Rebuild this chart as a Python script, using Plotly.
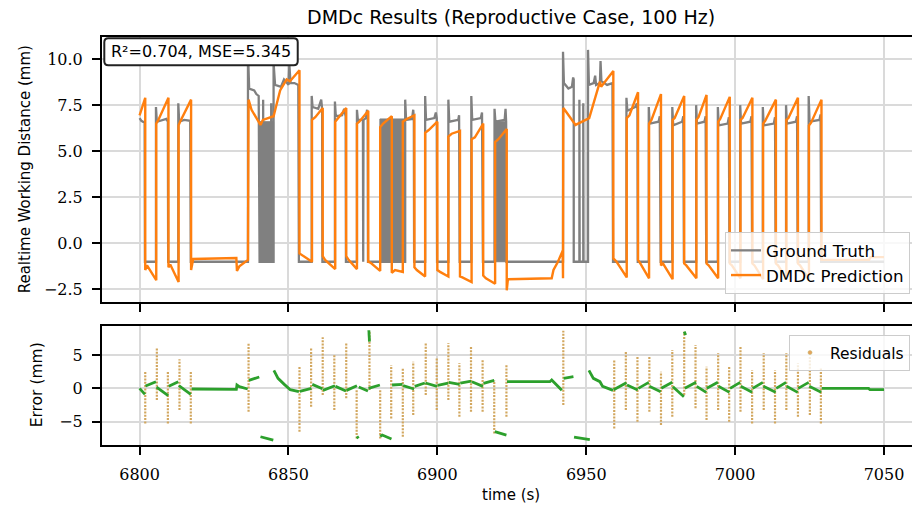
import plotly.graph_objects as go

# ---------------- data ----------------
gt_pts = [
    (6800.0, 6.8), (6800.6, 6.65), (6801.7, 6.55), (6801.8, -1.0),
    (6805.5, -1.0), (6805.5, 7.4), (6805.8, 6.6), (6807.5, 6.7), (6809.0, 6.75), (6809.5, 6.6), (6809.6, -1.0),
    (6813.0, -1.0), (6813.0, 7.6), (6813.3, 6.6), (6815.0, 6.7), (6817.0, 6.65), (6817.2, -1.0),
    (6836.4, -1.0), (6836.4, 10.4), (6836.8, 8.4), (6838.5, 8.3), (6839.2, 8.1), (6840.0, 8.0), (6840.3, -1.0),
    (6841.5, -1.0), (6841.5, 7.8), (6841.6, -1.0), (6844.2, -1.0), (6844.2, 7.6), (6844.3, -1.0),
    (6845.0, -1.0), (6845.0, 9.8), (6845.5, 8.6), (6847.5, 8.5), (6848.5, 8.9), (6850.0, 8.6), (6850.3, 9.7),
    (6850.7, 8.7), (6852.0, 8.7), (6853.3, 8.6), (6853.5, -1.0),
    (6857.8, -1.0), (6857.8, 8.0), (6858.1, 7.4), (6860.0, 7.3), (6861.0, 7.8), (6861.3, 7.3), (6861.4, -1.0),
    (6865.6, -1.0), (6865.6, 7.7), (6865.9, 6.9), (6868.0, 6.95), (6868.7, 7.3), (6869.2, 6.9), (6869.3, -1.0),
    (6873.0, -1.0), (6873.0, 7.25), (6873.3, 6.7), (6875.0, 6.7), (6875.1, -1.0), (6875.2, 6.7), (6876.0, 6.8),
    (6876.4, 7.25), (6876.6, 6.8), (6876.7, -1.0),
    (6889.2, -1.0), (6889.2, 7.8), (6889.5, 6.7), (6891.5, 6.75), (6891.9, 7.25), (6892.1, 6.8), (6892.2, -1.0),
    (6895.9, -1.0), (6895.9, 8.0), (6896.2, 6.7), (6899.0, 6.8), (6899.5, 7.1), (6899.8, 6.8), (6899.9, -1.0),
    (6903.7, -1.0), (6903.7, 7.8), (6904.0, 6.6), (6907.0, 6.7), (6907.3, 6.95), (6907.5, -1.0),
    (6911.4, -1.0), (6911.4, 8.0), (6911.7, 6.7), (6914.6, 6.8), (6915.0, 7.1), (6915.3, -1.0),
    (6919.2, -1.0), (6919.2, 7.3), (6919.5, 6.6), (6922.6, 6.7), (6922.9, 7.3), (6923.1, 6.6), (6923.2, -1.0),
    (6942.2, -1.0), (6942.2, 10.4), (6942.5, 8.7), (6944.0, 8.4), (6945.2, 8.5), (6945.6, 9.0), (6945.8, 8.9), (6945.8, -1.0),
    (6947.7, -1.0), (6947.7, 7.8), (6947.8, -1.0), (6949.0, -1.0), (6949.0, 7.6), (6949.1, -1.0),
    (6950.6, -1.0), (6950.6, 10.5), (6950.9, 8.6), (6952.5, 8.7), (6953.0, 9.1), (6953.3, 8.6), (6954.6, 8.7),
    (6954.8, 9.9), (6955.1, 8.8), (6957.0, 8.6), (6958.8, 8.7), (6959.0, -1.0),
    (6963.5, -1.0), (6963.5, 7.9), (6963.8, 7.2), (6966.5, 7.4), (6967.0, 7.6), (6967.2, 7.3), (6967.3, -1.0),
    (6971.0, -1.0), (6971.0, 7.4), (6971.3, 6.5), (6974.3, 6.6), (6974.7, 6.9), (6975.0, -1.0),
    (6978.9, -1.0), (6978.9, 7.4), (6979.2, 6.4), (6982.2, 6.6), (6982.6, 6.9), (6982.8, -1.0),
    (6986.9, -1.0), (6986.9, 7.5), (6987.2, 6.5), (6989.7, 6.6), (6990.1, 6.9), (6990.3, -1.0),
    (6994.2, -1.0), (6994.2, 7.4), (6994.5, 6.4), (6997.5, 6.5), (6997.9, 6.85), (6998.1, -1.0),
    (7001.7, -1.0), (7001.7, 7.5), (7002.0, 6.5), (7005.1, 6.6), (7005.5, 6.9), (7005.7, -1.0),
    (7009.3, -1.0), (7009.3, 7.4), (7009.6, 6.4), (7013.0, 6.5), (7013.4, 6.85), (7013.6, -1.0),
    (7017.1, -1.0), (7017.1, 7.5), (7017.4, 6.5), (7020.4, 6.6), (7020.8, 6.9), (7021.0, -1.0),
    (7024.7, -1.0), (7024.7, 8.0), (7025.0, 6.6), (7028.3, 6.7), (7028.7, 7.0), (7028.9, -1.0),
    (7050.0, -1.0),
]

# stretches where the ground truth flickers rapidly between on/off (drawn as solid gray)
flicker_t0 = [6840.4, 6880.7, 6919.2]
flicker_t1 = [6845.0, 6889.2, 6923.2]
flicker_top = [6.6, 6.75, 6.6]

pred_pts = [
    (6800.0, 6.95), (6801.9, 7.9), (6801.9, -1.45), (6802.5, -1.2), (6805.6, -2.0),
    (6805.6, 6.5), (6806.3, 6.7), (6809.7, 7.9), (6809.7, -1.3), (6810.3, -1.15), (6813.1, -2.1),
    (6813.1, 6.4), (6813.6, 6.6), (6817.3, 7.8), (6817.3, -1.45), (6818.0, -0.85), (6832.5, -0.8),
    (6832.7, -1.5), (6833.5, -1.25), (6836.4, -0.9),
    (6836.6, 7.8), (6837.6, 7.25), (6840.6, 6.43), (6841.4, 6.7), (6845.0, 6.9), (6847.2, 8.3), (6848.3, 8.6),
    (6849.4, 8.9), (6850.5, 8.8), (6853.7, 9.4), (6853.7, -0.55), (6857.3, -0.9),
    (6857.9, -1.0), (6857.9, 6.7), (6859.0, 6.85), (6861.5, 7.35), (6861.5, -0.7), (6862.3, -0.9), (6865.7, -1.4),
    (6865.7, 6.6), (6866.5, 6.75), (6869.4, 7.35), (6869.4, -0.7), (6870.2, -0.9), (6873.0, -1.4),
    (6873.0, 6.5), (6873.8, 6.6), (6876.8, 7.2), (6876.8, -1.0), (6877.5, -1.05), (6880.8, -1.5),
    (6880.8, 6.3), (6881.8, 6.5), (6884.7, 6.9), (6884.7, -1.6), (6885.8, -1.45), (6888.4, -1.55),
    (6888.4, 6.6), (6889.7, 6.75), (6892.3, 6.95), (6892.3, -1.3), (6893.1, -1.45), (6895.9, -1.8),
    (6895.9, 6.0), (6897.1, 6.15), (6900.0, 6.6), (6900.0, -1.45), (6900.9, -1.55), (6903.7, -1.8),
    (6903.7, 5.8), (6904.8, 5.95), (6907.6, 6.1), (6907.6, -1.8), (6908.4, -1.85), (6911.5, -2.1),
    (6911.5, 5.65), (6912.6, 5.75), (6915.4, 6.5), (6915.4, -1.75), (6916.3, -1.9), (6919.4, -2.2),
    (6919.4, 5.5), (6920.5, 5.65), (6923.3, 6.2), (6923.3, -2.55), (6923.7, -1.95), (6938.4, -1.9),
    (6939.0, -1.45), (6940.5, -1.0), (6942.1, -0.4), (6942.2, -1.9),
    (6942.3, 7.35), (6943.0, 7.2), (6946.4, 6.43), (6951.0, 6.8), (6954.6, 8.78), (6955.0, 8.5), (6959.1, 9.35),
    (6959.1, -0.82), (6960.2, -1.0), (6963.6, -1.85),
    (6963.6, 6.8), (6964.5, 6.95), (6967.4, 8.2), (6967.4, -0.9), (6968.0, -1.05), (6971.1, -1.9),
    (6971.1, 6.5), (6971.9, 6.7), (6975.1, 8.1), (6975.1, -1.2), (6975.8, -1.1), (6979.0, -1.95),
    (6979.0, 6.7), (6979.7, 6.8), (6982.9, 8.0), (6982.9, -1.1), (6983.6, -1.2), (6987.0, -1.9),
    (6987.0, 6.7), (6987.7, 6.85), (6990.4, 8.05), (6990.4, -1.1), (6991.1, -1.2), (6994.3, -1.9),
    (6994.3, 6.6), (6995.0, 6.75), (6998.2, 7.95), (6998.2, -1.1), (6998.9, -1.2), (7001.8, -1.9),
    (7001.8, 6.7), (7002.5, 6.8), (7005.8, 7.9), (7005.8, -1.1), (7006.5, -1.2), (7009.4, -1.95),
    (7009.4, 6.5), (7010.1, 6.65), (7013.7, 7.8), (7013.7, -1.1), (7014.4, -1.2), (7017.2, -1.9),
    (7017.2, 6.7), (7017.9, 6.8), (7021.1, 7.9), (7021.1, -1.1), (7021.8, -1.2), (7024.8, -1.95),
    (7024.8, 6.4), (7025.5, 6.55), (7029.0, 7.8), (7029.0, -0.9), (7045.0, -0.9), (7045.5, -0.75), (7050.0, -0.75),
]

# residual (truth - prediction): steady parts, drawn densely
res_segments = [
    [(6800.0, 0.0), (6801.8, -0.9)],
    [(6802.0, 0.35), (6805.5, 1.0)],
    [(6805.7, 0.2), (6809.6, -1.1)],
    [(6809.8, 0.3), (6813.0, 1.0)],
    [(6813.2, 0.4), (6817.2, -0.9)],
    [(6817.5, -0.1), (6832.5, -0.15), (6832.7, 0.5), (6833.5, 0.25), (6836.3, -0.1)],
    [(6836.7, 1.2), (6838.5, 1.5), (6840.2, 1.7)],
    [(6840.6, -7.25), (6844.9, -7.75)],
    [(6845.1, 2.7), (6846.5, 1.5), (6848.6, 0.6), (6850.6, -0.2), (6853.5, -0.5)],
    [(6853.8, -0.45), (6857.7, 0.0)],
    [(6858.0, 0.6), (6861.4, -0.05)],
    [(6861.6, -0.3), (6865.6, 0.4)],
    [(6865.8, 0.3), (6869.3, -0.4)],
    [(6869.5, -0.3), (6873.0, 0.4)],
    [(6873.0, -7.2), (6873.5, -7.5)],
    [(6873.6, 0.2), (6876.7, -0.4)],
    [(6877.0, 8.7), (6877.2, 7.0)],
    [(6876.9, 0.0), (6880.7, 0.5)],
    [(6880.8, -7.2), (6881.5, -7.0), (6884.6, -7.6)],
    [(6884.8, 0.5), (6888.3, 0.6)],
    [(6888.5, 0.4), (6892.2, -0.1)],
    [(6892.4, 0.3), (6895.8, 0.8)],
    [(6896.0, 0.8), (6899.9, 0.3)],
    [(6900.1, 0.45), (6903.6, 0.8)],
    [(6903.8, 0.9), (6907.5, 0.6)],
    [(6907.7, 0.8), (6911.4, 1.1)],
    [(6911.6, 1.0), (6915.3, 0.3)],
    [(6915.5, 0.75), (6919.1, 1.2)],
    [(6919.3, -6.5), (6923.2, -7.0)],
    [(6923.4, 1.0), (6937.8, 1.0), (6938.4, 1.25), (6941.8, -0.3)],
    [(6942.4, 1.5), (6945.7, 1.75)],
    [(6945.9, -7.3), (6951.2, -7.7)],
    [(6950.9, 2.7), (6952.4, 1.5), (6954.6, 1.0), (6955.5, 0.3), (6959.0, -0.3)],
    [(6959.2, -0.2), (6963.5, 0.85)],
    [(6963.7, 0.5), (6967.3, -0.25)],
    [(6967.5, 0.0), (6971.0, 0.9)],
    [(6971.2, 0.3), (6975.0, -0.5)],
    [(6975.2, 0.0), (6978.9, 0.9)],
    [(6979.1, 0.25), (6982.8, -1.25)],
    [(6982.9, 8.5), (6983.4, 8.0)],
    [(6983.1, 0.0), (6986.9, 0.9)],
    [(6987.1, 0.3), (6990.3, -0.6)],
    [(6990.5, 0.0), (6994.2, 0.9)],
    [(6994.4, 0.3), (6998.1, -0.6)],
    [(6998.3, 0.0), (7001.7, 0.9)],
    [(7001.9, 0.3), (7005.7, -0.6)],
    [(7005.9, 0.0), (7009.3, 0.9)],
    [(7009.5, 0.3), (7013.6, -0.6)],
    [(7013.8, 0.0), (7017.1, 0.9)],
    [(7017.3, 0.3), (7021.0, -0.6)],
    [(7021.2, 0.0), (7024.7, 0.9)],
    [(7024.9, 0.3), (7028.9, -0.6)],
    [(7029.1, 0.0), (7044.8, 0.0), (7045.3, -0.2), (7050.0, -0.2)],
]

# residual excursions at switching instants (sparse dotted columns)
spike_t = [6801.9, 6805.8, 6809.5, 6813.4, 6817.2, 6836.6, 6853.7, 6857.6, 6861.5, 6865.4,
           6869.4, 6872.9, 6877.2, 6880.8, 6884.5, 6888.4, 6891.9, 6896.1, 6899.8, 6903.7,
           6907.4, 6911.3, 6915.2, 6919.1, 6923.2, 6942.3, 6959.4, 6963.3, 6967.2, 6971.2,
           6975.1, 6978.9, 6982.9, 6986.7, 6990.4, 6994.3, 6998.0, 7001.8, 7005.7, 7009.6,
           7013.4, 7017.2, 7021.1, 7025.1, 7028.8]
spike_hi = [2.5, 6.15, 2.5, 4.35, 2.6, 6.85, 3.35, 6.0, 7.65, 5.1,
            6.75, -0.25, 8.65, -0.25, 3.5, 3.0, 4.0, 6.75, 4.5, 6.75,
            3.75, 6.25, 4.25, 1.25, 3.5, 8.65, 4.25, 5.5, 4.75, 4.75,
            2.5, 5.75, 8.5, 6.5, 3.25, 5.25, 3.25, 6.25, 2.75, 5.25,
            2.75, 5.25, 3.75, 4.75, 3.0]
spike_lo = [-5.25, -1.75, -5.25, -3.25, -5.25, -3.5, -6.5, -2.75, -1.0, -3.25,
            -1.5, -7.5, -0.25, -7.5, -4.5, -7.25, -4.0, -1.0, -3.25, -1.75,
            -4.25, -3.5, -3.5, -6.75, -4.25, -2.5, -6.0, -3.25, -5.0, -3.5,
            -5.5, -4.25, -1.0, -3.0, -4.75, -3.25, -5.0, -3.5, -5.25, -3.25,
            -5.25, -3.25, -4.25, -4.0, -5.25]

x_ticks = [6800, 6850, 6900, 6950, 7000, 7050]
y1_ticks = [-2.5, 0.0, 2.5, 5.0, 7.5, 10.0]
y2_ticks = [-5, 0, 5]

title_text = "DMDc Results (Reproductive Case, 100 Hz)"
metrics_text = "R²=0.704, MSE=5.345"

# ---------------- styling ----------------
GRAY = "#808080"
ORANGE = "#ff7f0e"
GREEN = "#2ca02c"
DOT = "#d2a75f"
SANS = "DejaVu Sans"
SERIF = "DejaVu Serif"


def fmt(v):
    s = f"{v:.1f}" if isinstance(v, float) else f"{v}"
    return s.replace("-", "\u2212")


fig = go.Figure()

# flicker blocks of the ground truth
for a, b, top in zip(flicker_t0, flicker_t1, flicker_top):
    fig.add_trace(go.Scatter(x=[a, b, b, a, a], y=[-1.0, -1.0, top, top, -1.0], fill="toself",
                             fillcolor=GRAY, line=dict(color=GRAY, width=1), mode="lines",
                             showlegend=False, hoverinfo="skip", xaxis="x", yaxis="y"))

fig.add_trace(go.Scatter(x=[p[0] for p in gt_pts], y=[p[1] for p in gt_pts], mode="lines",
                         line=dict(color=GRAY, width=2.3), name="Ground Truth",
                         legend="legend", xaxis="x", yaxis="y"))
fig.add_trace(go.Scatter(x=[p[0] for p in pred_pts], y=[p[1] for p in pred_pts], mode="lines",
                         line=dict(color=ORANGE, width=2.4), name="DMDc Prediction",
                         legend="legend", xaxis="x", yaxis="y"))

# residual spikes (dotted columns)
sx, sy = [], []
for t, lo, hi in zip(spike_t, spike_lo, spike_hi):
    sx += [t, t, None]
    sy += [lo, hi, None]
fig.add_trace(go.Scatter(x=sx, y=sy, mode="lines", line=dict(color=DOT, width=2.2, dash="2px,1.3px"),
                         showlegend=False, hoverinfo="skip", xaxis="x2", yaxis="y2"))

# residual steady parts
rx, ry = [], []
for seg in res_segments:
    rx += [p[0] for p in seg] + [None]
    ry += [p[1] for p in seg] + [None]
fig.add_trace(go.Scatter(x=rx, y=ry, mode="lines", line=dict(color=GREEN, width=2.8),
                         showlegend=False, hoverinfo="skip", xaxis="x2", yaxis="y2"))

# legend entry for residuals
fig.add_trace(go.Scatter(x=[None], y=[None], mode="markers",
                         marker=dict(color="#e8a35a", size=4, line=dict(color="#b9b36a", width=0.5)),
                         name="Residuals", legend="legend2", xaxis="x2", yaxis="y2"))

L, R_EDGE, TOP, BOT = 101.7, 912.0, 37.0, 445.0
W, H = 912, 515
PW = R_EDGE - L
PH = BOT - TOP


def px_x(x):
    return (x - L) / PW


def px_y(y):
    return (BOT - y) / PH


xr = [6787.38, 7059.4]
axis_common = dict(showline=True, linecolor="black", linewidth=2, ticks="outside", ticklen=8,
                   tickwidth=1.6, tickcolor="black", showgrid=True, gridcolor="#dadada", gridwidth=1.5,
                   zeroline=False, tickfont=dict(family=SERIF, size=16, color="black"))

# rounded box behind the metrics text
bx0, bx1, by0, by1, rr = 104.0, 297.5, 38.3, 65.3, 4.0


def rounded_path(x0, x1, y0, y1, r):
    X = px_x
    Y = px_y
    return (f"M {X(x0 + r)} {Y(y0)} L {X(x1 - r)} {Y(y0)} Q {X(x1)} {Y(y0)} {X(x1)} {Y(y0 + r)} "
            f"L {X(x1)} {Y(y1 - r)} Q {X(x1)} {Y(y1)} {X(x1 - r)} {Y(y1)} "
            f"L {X(x0 + r)} {Y(y1)} Q {X(x0)} {Y(y1)} {X(x0)} {Y(y1 - r)} "
            f"L {X(x0)} {Y(y0 + r)} Q {X(x0)} {Y(y0)} {X(x0 + r)} {Y(y0)} Z")


fig.update_layout(
    width=W, height=H,
    margin=dict(l=L, r=W - R_EDGE, t=TOP, b=H - BOT),
    plot_bgcolor="white", paper_bgcolor="white",
    xaxis=dict(domain=[0, 1], anchor="y", range=xr, tickvals=x_ticks, showticklabels=False,
               mirror=True, **axis_common),
    yaxis=dict(domain=[px_y(301.7), 1], anchor="x", range=[-3.17, 11.2], tickvals=y1_ticks,
               ticktext=[fmt(v) for v in y1_ticks], ticklabelstandoff=6, **axis_common),
    xaxis2=dict(domain=[0, 1], anchor="y2", range=xr, tickvals=x_ticks,
                ticktext=[str(v) for v in x_ticks], mirror=True, ticklabelstandoff=6, **axis_common),
    yaxis2=dict(domain=[0, px_y(325.7)], anchor="x2", range=[-8.49, 9.39], tickvals=y2_ticks,
                ticktext=[fmt(v) for v in y2_ticks], ticklabelstandoff=6, **axis_common),
    legend=dict(x=px_x(910), y=px_y(294), xanchor="right", yanchor="bottom",
                bgcolor="rgba(255,255,255,0.8)", bordercolor="#cccccc", borderwidth=1,
                font=dict(family=SANS, size=16.7, color="black")),
    legend2=dict(x=px_x(910), y=px_y(335), xanchor="right", yanchor="top",
                 bgcolor="rgba(255,255,255,0.8)", bordercolor="#cccccc", borderwidth=1,
                 font=dict(family=SANS, size=15.5, color="black")),
    showlegend=True,
    shapes=[dict(type="path", xref="paper", yref="paper", path=rounded_path(bx0, bx1, by0, by1, rr),
                 fillcolor="white", line=dict(color="#222222", width=2), layer="above")],
)

ann = [
    dict(text=title_text, x=px_x(511), y=px_y(17), xref="paper", yref="paper", showarrow=False,
         xanchor="center", yanchor="middle", font=dict(family=SANS, size=19, color="black")),
    dict(text=metrics_text, x=px_x((bx0 + bx1) / 2), y=px_y((by0 + by1) / 2), xref="paper", yref="paper",
         showarrow=False, xanchor="center", yanchor="middle",
         font=dict(family=SANS, size=16, color="black")),
    dict(text="time (s)", x=px_x(511), y=px_y(495), xref="paper", yref="paper", showarrow=False,
         xanchor="center", yanchor="middle", font=dict(family=SANS, size=15, color="black")),
    dict(text="Realtime Working Distance (mm)", x=px_x(25), y=px_y(169), xref="paper", yref="paper",
         showarrow=False, textangle=-90, xanchor="center", yanchor="middle",
         font=dict(family=SANS, size=15, color="black")),
    dict(text="Error (mm)", x=px_x(37), y=px_y(385), xref="paper", yref="paper",
         showarrow=False, textangle=-90, xanchor="center", yanchor="middle",
         font=dict(family=SANS, size=15.5, color="black")),
]
fig.update_layout(annotations=ann)

fig.write_html("out.html")
